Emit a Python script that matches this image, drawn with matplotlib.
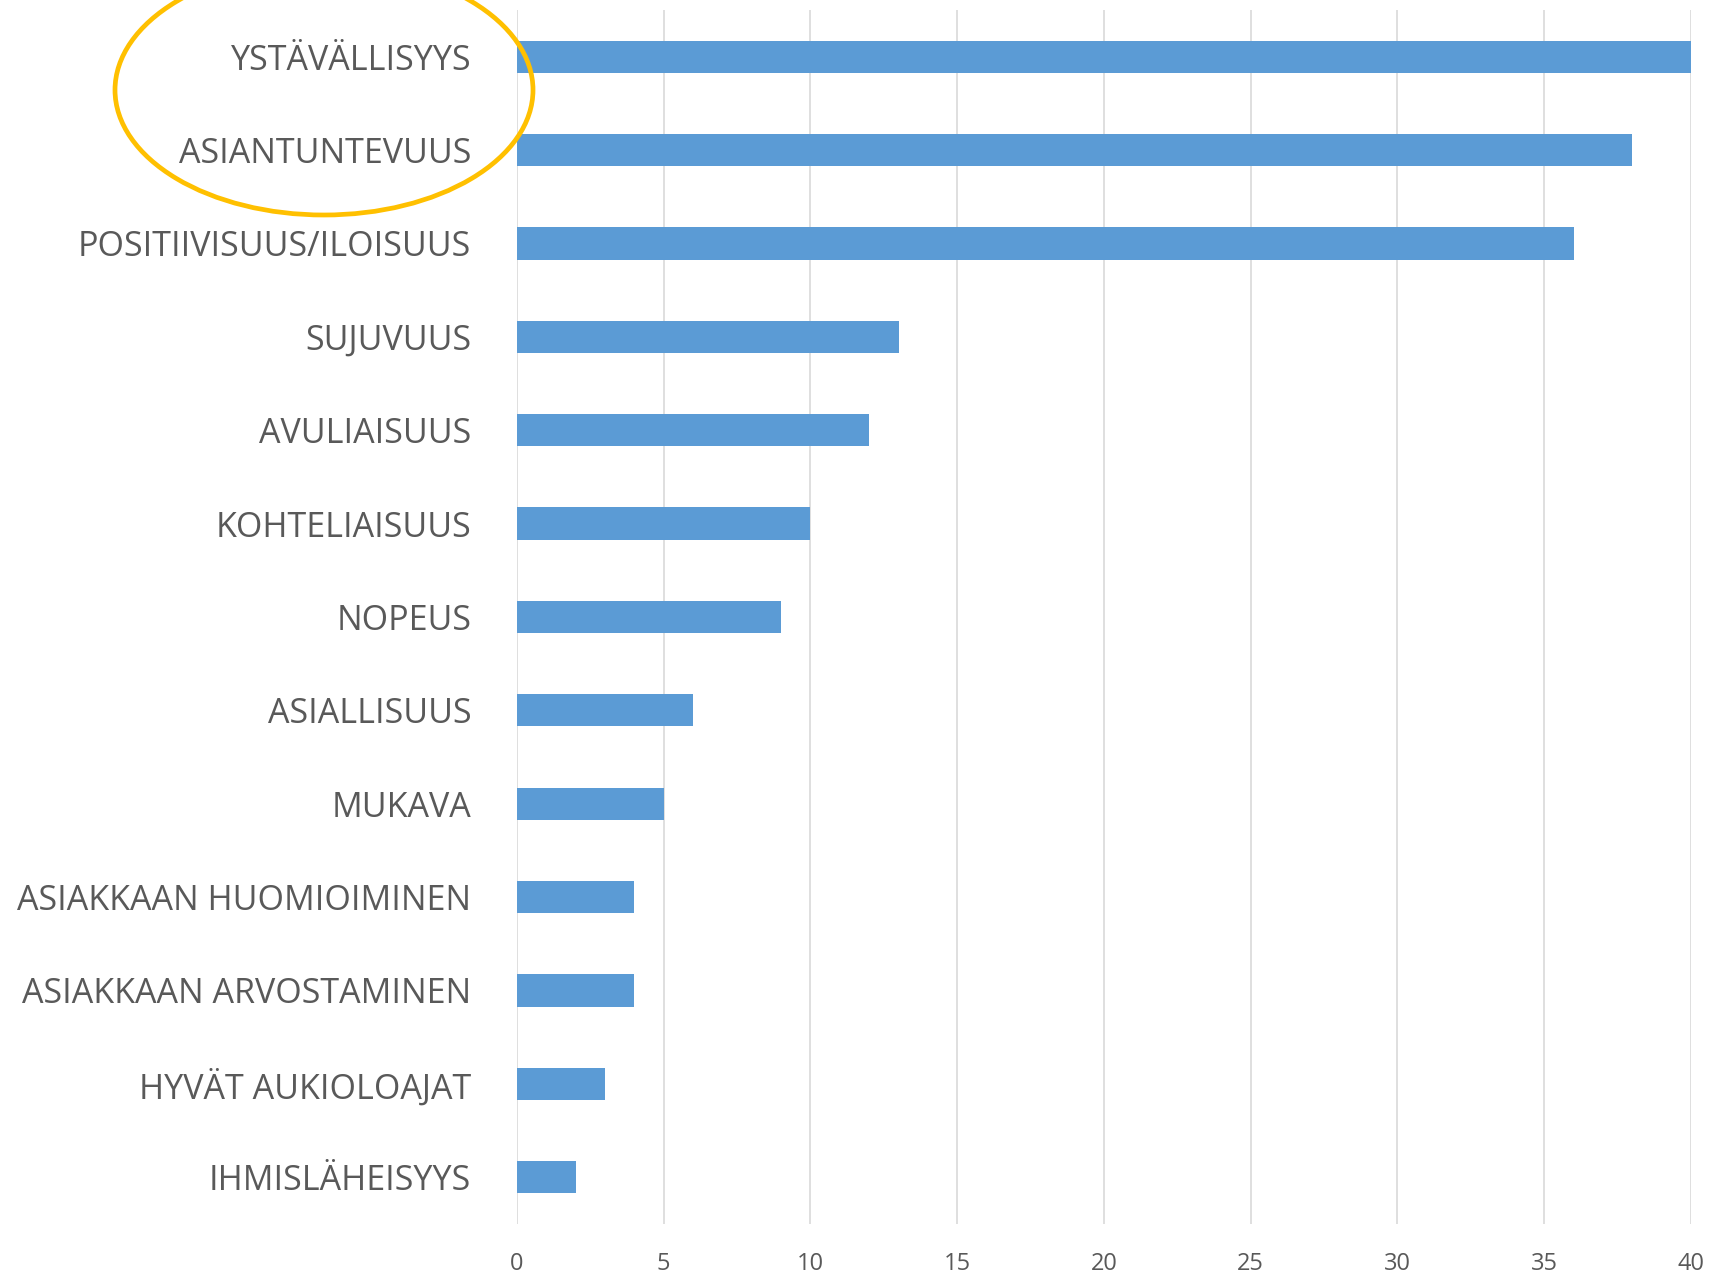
import matplotlib
matplotlib.use("Agg")
import matplotlib.pyplot as plt
from matplotlib.patches import Ellipse

# data, top to bottom as in the chart
categories = ["YSTÄVÄLLISYYS", "ASIANTUNTEVUUS", "POSITIIVISUUS/ILOISUUS", "SUJUVUUS",
              "AVULIAISUUS", "KOHTELIAISUUS", "NOPEUS", "ASIALLISUUS", "MUKAVA",
              "ASIAKKAAN HUOMIOIMINEN", "ASIAKKAAN ARVOSTAMINEN", "HYVÄT AUKIOLOAJAT",
              "IHMISLÄHEISYYS"]
counts = [40, 38, 36, 13, 12, 10, 9, 6, 5, 4, 4, 3, 2]
xticks = [0, 5, 10, 15, 20, 25, 30, 35, 40]

plt.rcParams['font.family'] = ['Open Sans', 'DejaVu Sans']
grey = '#595959'

fig = plt.figure(figsize=(17.29, 12.76), dpi=100)
ax = fig.add_axes([0.299, 0.0408, 0.679, 0.9514])

ypos = list(range(len(categories)))
ax.barh(ypos, counts, height=0.345, color='#5B9BD5', zorder=3)

ax.set_xlim(0, 40)
ax.set_ylim(len(categories) - 0.5, -0.5)
ax.set_xticks(xticks)
ax.set_yticks(ypos)
ax.set_yticklabels(categories, fontsize=24.5, color=grey)
ax.set_xticklabels([str(t) for t in xticks], fontsize=17, color=grey)
ax.tick_params(axis='y', length=0, pad=33)
ax.tick_params(axis='x', length=0, pad=20)

ax.grid(axis='x', color='#D9D9D9', linewidth=1.2, zorder=0)
for s in ax.spines.values():
    s.set_visible(False)

# yellow highlight ring round the first two labels
ring = Ellipse((324 / 1729, 1 - 90 / 1276), 418 / 1729, 250 / 1276,
               transform=fig.transFigure, fill=False, edgecolor='#FFC000',
               linewidth=3.4, zorder=10)
fig.patches.append(ring)

fig.savefig('out.png', dpi=100)
